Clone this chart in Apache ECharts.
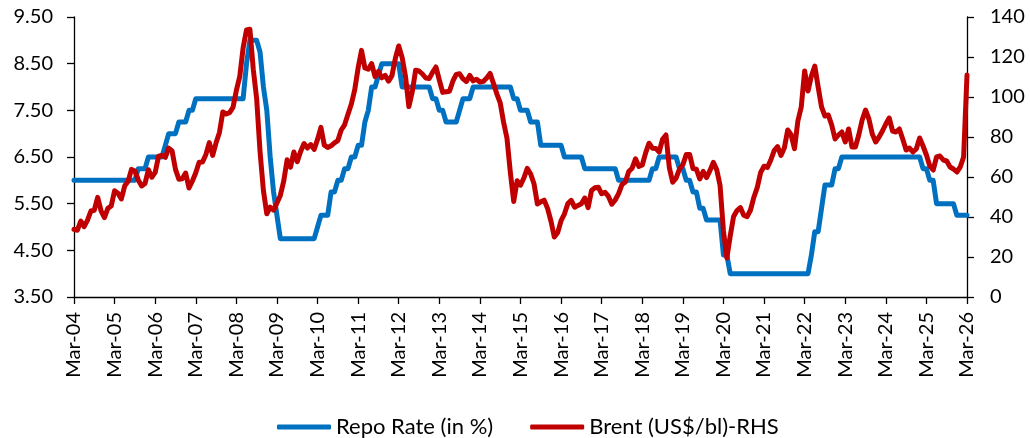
<!DOCTYPE html>
<html>
<head>
<meta charset="utf-8">
<title>Repo Rate vs Brent</title>
<script src="https://cdn.jsdelivr.net/npm/echarts@6/dist/echarts.min.js"></script>
<style>
  html, body { margin: 0; padding: 0; background: #ffffff; }
  #chart { width: 1030px; height: 438px; }
</style>
</head>
<body>
<div id="chart"></div>
<script>
// Monthly series, Mar-2004 .. Mar-2026
const MONTH_NAMES = ['Jan', 'Feb', 'Mar', 'Apr', 'May', 'Jun', 'Jul', 'Aug', 'Sep', 'Oct', 'Nov', 'Dec'];
const FIRST = { year: 2004, month: 2 };   // Mar-04
const LAST = { year: 2026, month: 2 };    // Mar-26
const TICK_EVERY = 12;                    // one labelled tick per year (each March)

// Repo Rate (in %), one row per calendar year
const repoRate = [
  /* 2004 Mar-Dec */ 6.00, 6.00, 6.00, 6.00, 6.00, 6.00, 6.00, 6.00, 6.00, 6.00,
  /* 2005 */ 6.00, 6.00, 6.00, 6.00, 6.00, 6.00, 6.00, 6.00, 6.00, 6.25, 6.25, 6.25,
  /* 2006 */ 6.50, 6.50, 6.50, 6.50, 6.50, 6.75, 7.00, 7.00, 7.00, 7.25, 7.25, 7.25,
  /* 2007 */ 7.50, 7.50, 7.75, 7.75, 7.75, 7.75, 7.75, 7.75, 7.75, 7.75, 7.75, 7.75,
  /* 2008 */ 7.75, 7.75, 7.75, 7.75, 7.75, 8.50, 9.00, 9.00, 9.00, 8.75, 8.00, 7.50,
  /* 2009 */ 6.50, 5.75, 5.25, 4.75, 4.75, 4.75, 4.75, 4.75, 4.75, 4.75, 4.75, 4.75,
  /* 2010 */ 4.75, 4.75, 5.00, 5.25, 5.25, 5.25, 5.75, 5.75, 6.00, 6.00, 6.25, 6.25,
  /* 2011 */ 6.50, 6.50, 6.75, 6.75, 7.25, 7.50, 8.00, 8.00, 8.25, 8.50, 8.50, 8.50,
  /* 2012 */ 8.50, 8.50, 8.50, 8.00, 8.00, 8.00, 8.00, 8.00, 8.00, 8.00, 8.00, 8.00,
  /* 2013 */ 7.75, 7.75, 7.50, 7.50, 7.25, 7.25, 7.25, 7.25, 7.50, 7.75, 7.75, 7.75,
  /* 2014 */ 8.00, 8.00, 8.00, 8.00, 8.00, 8.00, 8.00, 8.00, 8.00, 8.00, 8.00, 8.00,
  /* 2015 */ 7.75, 7.75, 7.50, 7.50, 7.50, 7.25, 7.25, 7.25, 6.75, 6.75, 6.75, 6.75,
  /* 2016 */ 6.75, 6.75, 6.75, 6.50, 6.50, 6.50, 6.50, 6.50, 6.50, 6.25, 6.25, 6.25,
  /* 2017 */ 6.25, 6.25, 6.25, 6.25, 6.25, 6.25, 6.25, 6.00, 6.00, 6.00, 6.00, 6.00,
  /* 2018 */ 6.00, 6.00, 6.00, 6.00, 6.00, 6.25, 6.25, 6.50, 6.50, 6.50, 6.50, 6.50,
  /* 2019 */ 6.50, 6.25, 6.25, 6.00, 6.00, 5.75, 5.75, 5.40, 5.40, 5.15, 5.15, 5.15,
  /* 2020 */ 5.15, 5.15, 4.40, 4.40, 4.00, 4.00, 4.00, 4.00, 4.00, 4.00, 4.00, 4.00,
  /* 2021 */ 4.00, 4.00, 4.00, 4.00, 4.00, 4.00, 4.00, 4.00, 4.00, 4.00, 4.00, 4.00,
  /* 2022 */ 4.00, 4.00, 4.00, 4.00, 4.40, 4.90, 4.90, 5.40, 5.90, 5.90, 5.90, 6.25,
  /* 2023 */ 6.25, 6.50, 6.50, 6.50, 6.50, 6.50, 6.50, 6.50, 6.50, 6.50, 6.50, 6.50,
  /* 2024 */ 6.50, 6.50, 6.50, 6.50, 6.50, 6.50, 6.50, 6.50, 6.50, 6.50, 6.50, 6.50,
  /* 2025 */ 6.50, 6.25, 6.25, 6.00, 6.00, 5.50, 5.50, 5.50, 5.50, 5.50, 5.50, 5.25,
  /* 2026 Jan-Mar */ 5.25, 5.25, 5.25
];

// Brent (US$/bl), monthly average, one row per calendar year
const brent = [
  /* 2004 Mar-Dec */ 33.8, 33.4, 37.9, 35.2, 38.4, 43.0, 43.4, 49.8, 43.1, 39.7,
  /* 2005 */ 44.3, 45.5, 53.1, 51.9, 49.0, 55.6, 57.9, 63.8, 63.0, 58.5, 55.5, 56.8,
  /* 2006 */ 63.6, 59.9, 62.3, 70.4, 70.8, 69.8, 74.4, 73.0, 63.8, 58.9, 59.1, 62.0,
  /* 2007 */ 54.5, 58.0, 62.1, 67.4, 67.5, 71.3, 77.2, 70.8, 77.1, 82.3, 92.5, 91.5,
  /* 2008 */ 92.2, 94.8, 103.3, 110.2, 124.6, 133.5, 133.9, 113.9, 99.1, 72.7, 53.2, 41.6,
  /* 2009 */ 44.9, 43.4, 47.0, 50.8, 57.9, 68.6, 64.9, 72.5, 67.7, 72.8, 76.7, 74.5,
  /* 2010 */ 76.2, 73.8, 78.8, 84.8, 75.9, 74.8, 75.6, 77.1, 78.2, 83.5, 86.1, 91.4,
  /* 2011 */ 96.5, 103.7, 114.6, 123.3, 114.5, 113.9, 116.7, 110.2, 112.8, 109.6, 110.8, 107.9,
  /* 2012 */ 110.7, 119.3, 125.5, 119.8, 110.3, 95.2, 102.6, 113.4, 113.0, 111.5, 109.5, 109.2,
  /* 2013 */ 112.3, 115.0, 108.5, 102.3, 102.6, 102.9, 107.9, 111.3, 111.6, 109.1, 107.8, 110.8,
  /* 2014 */ 108.1, 108.9, 107.5, 107.8, 109.5, 111.8, 106.8, 101.6, 97.1, 87.4, 79.4, 62.3,
  /* 2015 */ 47.8, 58.1, 55.9, 59.5, 64.3, 61.5, 56.6, 46.5, 47.6, 48.4, 44.3, 38.0,
  /* 2016 */ 30.0, 32.2, 38.2, 41.6, 46.7, 48.3, 44.9, 45.8, 46.6, 49.5, 44.7, 53.3,
  /* 2017 */ 54.6, 54.9, 51.6, 52.3, 50.3, 46.4, 48.5, 51.7, 56.2, 57.5, 62.7, 64.4,
  /* 2018 */ 69.1, 65.3, 66.0, 72.1, 76.9, 74.4, 74.3, 72.5, 78.9, 81.0, 64.7, 57.4,
  /* 2019 */ 59.4, 64.0, 66.1, 71.2, 71.3, 64.2, 63.9, 59.0, 62.8, 59.7, 63.2, 67.3,
  /* 2020 */ 63.7, 55.7, 33.0, 19.5, 30.5, 40.3, 43.2, 44.7, 40.9, 40.2, 43.5, 49.9,
  /* 2021 */ 54.8, 62.3, 65.4, 64.8, 68.5, 73.2, 75.2, 70.8, 74.5, 83.5, 81.1, 74.2,
  /* 2022 */ 88.0, 95.0, 113.0, 103.0, 110.5, 115.5, 105.0, 95.0, 90.5, 91.0, 86.0, 79.0,
  /* 2023 */ 81.0, 82.5, 77.5, 84.0, 75.0, 75.0, 81.0, 88.5, 93.5, 89.0, 81.5, 77.5,
  /* 2024 */ 80.0, 83.0, 86.5, 89.5, 83.0, 82.5, 84.0, 79.0, 73.5, 74.5, 72.5, 74.0,
  /* 2025 */ 79.5, 75.5, 71.0, 65.5, 63.5, 70.0, 70.5, 68.5, 68.0, 65.0, 64.0, 62.5,
  /* 2026 Jan-Mar */ 65.0, 70.0, 111.0
];

// Axis ranges and tick steps
const REPO_AXIS = { min: 3.5, max: 9.5, step: 1 };
const BRENT_AXIS = { min: 0, max: 140, step: 20 };
const SERIES_NAMES = ['Repo Rate (in %)', 'Brent (US$/bl)-RHS'];
const COLORS = ['#0070C0', '#C00000'];

// Category labels "Mar-04", "Apr-04", ...
const categories = [];
for (let y = FIRST.year; y <= LAST.year; y++) {
  for (let m = 0; m < 12; m++) {
    if (y === FIRST.year && m < FIRST.month) continue;
    if (y === LAST.year && m > LAST.month) continue;
    categories.push(MONTH_NAMES[m] + '-' + String(y).slice(2));
  }
}

const FONT = 'Lato, "Open Sans", "Noto Sans", sans-serif';
const TEXT = '#000000';
const yearTick = (idx) => idx % TICK_EVERY === 0;

const chart = echarts.init(document.getElementById('chart'), null, { renderer: 'canvas' });
chart.setOption({
  backgroundColor: '#ffffff',
  animation: false,
  textStyle: { fontFamily: FONT, color: TEXT },
  grid: { left: 74, right: 63, top: 17, bottom: 141, containLabel: false, outerBoundsMode: 'none' },
  legend: {
    data: SERIES_NAMES.map((n) => ({ name: n, icon: 'roundRect' })),
    left: 272,
    top: 411,
    itemWidth: 54,
    itemHeight: 5,
    itemGap: 37,
    textStyle: { fontFamily: FONT, fontSize: 22, color: TEXT },
    selectedMode: false
  },
  xAxis: {
    type: 'category',
    data: categories,
    boundaryGap: false,
    axisLine: { show: true, onZero: false, lineStyle: { color: '#000', width: 1.3 } },
    axisTick: { show: true, interval: yearTick, length: 7, lineStyle: { color: '#000', width: 1.3 } },
    axisLabel: {
      interval: yearTick,
      rotate: 90,
      margin: 15,
      fontFamily: FONT,
      fontSize: 20,
      color: TEXT
    },
    splitLine: { show: false }
  },
  yAxis: [
    {
      type: 'value',
      position: 'left',
      min: REPO_AXIS.min,
      max: REPO_AXIS.max,
      interval: REPO_AXIS.step,
      axisLine: { show: true, lineStyle: { color: '#000', width: 1.3 } },
      axisTick: { show: true, length: 7, lineStyle: { color: '#000', width: 1.3 } },
      axisLabel: {
        margin: 21,
        fontFamily: FONT,
        fontSize: 20,
        color: TEXT,
        formatter: (v) => v.toFixed(2)
      },
      splitLine: { show: false }
    },
    {
      type: 'value',
      position: 'right',
      min: BRENT_AXIS.min,
      max: BRENT_AXIS.max,
      interval: BRENT_AXIS.step,
      axisLine: { show: true, lineStyle: { color: '#000', width: 1.3 } },
      axisTick: { show: true, length: 7, lineStyle: { color: '#000', width: 1.3 } },
      axisLabel: { margin: 23, fontFamily: FONT, fontSize: 20, color: TEXT },
      splitLine: { show: false }
    }
  ],
  series: [
    {
      name: SERIES_NAMES[0],
      type: 'line',
      yAxisIndex: 0,
      data: repoRate,
      showSymbol: false,
      symbol: 'none',
      color: COLORS[0],
      lineStyle: { color: COLORS[0], width: 5, cap: 'round', join: 'round' },
      z: 2
    },
    {
      name: SERIES_NAMES[1],
      type: 'line',
      yAxisIndex: 1,
      data: brent,
      showSymbol: false,
      symbol: 'none',
      color: COLORS[1],
      lineStyle: { color: COLORS[1], width: 5, cap: 'round', join: 'round' },
      z: 3
    }
  ]
});
</script>
</body>
</html>
